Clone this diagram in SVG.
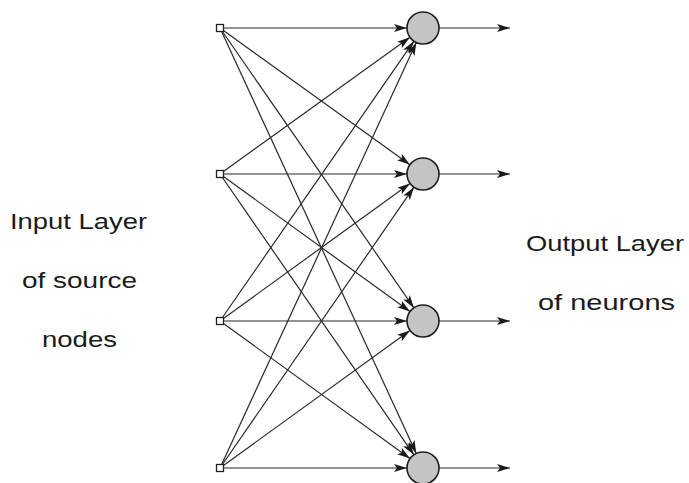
<svg xmlns="http://www.w3.org/2000/svg" width="689" height="483" viewBox="0 0 689 483">
<style>
.edge{stroke:#2a2a2a;stroke-width:1.2;fill:none;marker-end:url(#ah)}
.src{fill:#fff;stroke:#222;stroke-width:1.3}
.neu{fill:#c4c4c4;stroke:#1e1e1e;stroke-width:1.6}
.lbl{font-family:"Liberation Sans",Arial,sans-serif;font-size:22.5px;fill:#1a1a1a}
</style>
<defs>
<marker id="ah" markerUnits="userSpaceOnUse" markerWidth="14" markerHeight="10" refX="13" refY="5" orient="auto">
<path d="M0,1 L13,5 L0,9 L3,5 Z" fill="#1a1a1a"/>
</marker>
</defs>
<rect width="689" height="483" fill="#fff"/>
<g id="connectors">
<line class="edge" x1="220" y1="28" x2="407" y2="28"/>
<line class="edge" x1="220" y1="28" x2="410" y2="164.7"/>
<line class="edge" x1="220" y1="28" x2="413.9" y2="307.9"/>
<line class="edge" x1="220" y1="28" x2="416.3" y2="453.5"/>
<line class="edge" x1="220" y1="174" x2="410" y2="37.3"/>
<line class="edge" x1="220" y1="174" x2="407" y2="174"/>
<line class="edge" x1="220" y1="174" x2="410" y2="311.6"/>
<line class="edge" x1="220" y1="174" x2="413.9" y2="454.8"/>
<line class="edge" x1="220" y1="321" x2="413.9" y2="41.2"/>
<line class="edge" x1="220" y1="321" x2="410" y2="183.4"/>
<line class="edge" x1="220" y1="321" x2="407" y2="321"/>
<line class="edge" x1="220" y1="321" x2="410" y2="458.6"/>
<line class="edge" x1="220" y1="468" x2="416.3" y2="42.5"/>
<line class="edge" x1="220" y1="468" x2="413.9" y2="187.2"/>
<line class="edge" x1="220" y1="468" x2="410" y2="330.4"/>
<line class="edge" x1="220" y1="468" x2="407" y2="468"/>
<line class="edge" x1="439" y1="28" x2="510" y2="28"/>
<line class="edge" x1="439" y1="174" x2="510" y2="174"/>
<line class="edge" x1="439" y1="321" x2="510" y2="321"/>
<line class="edge" x1="439" y1="468" x2="510" y2="468"/>
</g>
<g id="in1"><rect class="src" x="216.5" y="24.5" width="7" height="7"/></g>
<g id="in2"><rect class="src" x="216.5" y="170.5" width="7" height="7"/></g>
<g id="in3"><rect class="src" x="216.5" y="317.5" width="7" height="7"/></g>
<g id="in4"><rect class="src" x="216.5" y="464.5" width="7" height="7"/></g>
<g id="out1"><circle class="neu" cx="423" cy="28" r="16"/></g>
<g id="out2"><circle class="neu" cx="423" cy="174" r="16"/></g>
<g id="out3"><circle class="neu" cx="423" cy="321" r="16"/></g>
<g id="out4"><circle class="neu" cx="423" cy="468" r="16"/></g>
<g id="input-label">
<text class="lbl" x="10" y="229" textLength="137" lengthAdjust="spacingAndGlyphs">Input Layer</text>
<text class="lbl" x="22" y="288" textLength="115" lengthAdjust="spacingAndGlyphs">of source</text>
<text class="lbl" x="42" y="347" textLength="75" lengthAdjust="spacingAndGlyphs">nodes</text>
</g>
<g id="output-label">
<text class="lbl" x="526" y="251" textLength="158" lengthAdjust="spacingAndGlyphs">Output Layer</text>
<text class="lbl" x="538" y="310" textLength="137" lengthAdjust="spacingAndGlyphs">of  neurons</text>
</g>
</svg>
